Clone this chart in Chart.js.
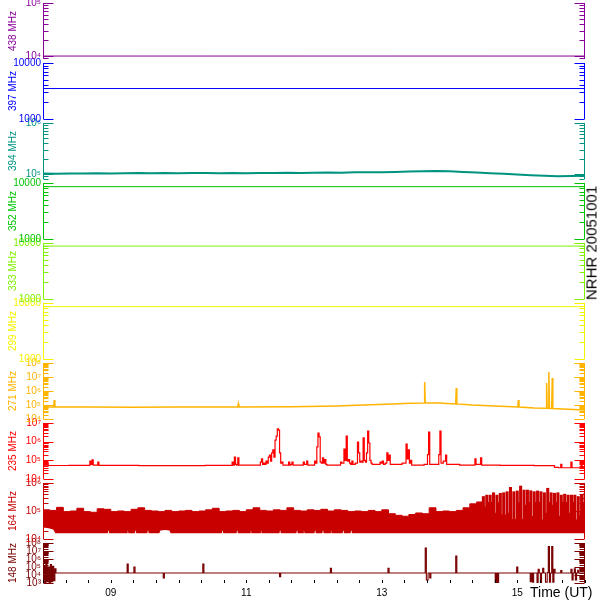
<!DOCTYPE html>
<html>
<head>
<meta charset="utf-8">
<script src="https://cdn.jsdelivr.net/npm/chart.js@4.4.1/dist/chart.umd.min.js"></script>
<style>
  body { margin: 0; background: #fff; }
  #wrap { position: relative; width: 600px; height: 600px; overflow: hidden; font-family: "Liberation Sans", Arial, sans-serif; }
  .panel { position: absolute; left: 0; width: 600px; }
  .panel canvas { display: block; }
  #stamp { position: absolute; left: 591px; top: 243px; transform: translate(-50%, -50%) rotate(-90deg); font-size: 15px; line-height: 15px; white-space: nowrap; color: #000; z-index: 5; }
  #xtitle { position: absolute; left: 530px; top: 585px; font-size: 14px; line-height: 14px; white-space: nowrap; color: #000; z-index: 5; }
</style>
</head>
<body>
<div id="wrap">
  <div id="stamp">NRHR 20051001</div>
  <div id="xtitle">Time (UT)</div>
</div>
<script>
// time in minutes of the day (UT)
const timeMin = 480, timeMax = 960;
const hourTicks = [540, 660, 780, 900];
const hourLabels = ["09", "11", "13", "15"];

const freqLabels = ["438 MHz", "397 MHz", "394 MHz", "352 MHz", "333 MHz",
                    "299 MHz", "271 MHz", "235 MHz", "164 MHz", "148 MHz"];

// flat channels
const t438 = [480, 960], v438 = [1.0e4, 1.0e4];
const t397 = [480, 960], v397 = [3.5e3, 3.5e3];
const t352 = [480, 960], v352 = [8.6e3, 8.6e3];
const t333 = [480, 960], v333 = [8.8e3, 8.8e3];
const t299 = [480, 960], v299 = [8.6e3, 8.6e3];

// 394 MHz
const t394 = [480, 492, 504, 516, 528, 540, 552, 564, 576, 588,
              600, 612, 624, 636, 648, 660, 672, 684, 696, 708,
              720, 732, 744, 756, 768, 780, 792, 804, 816, 828,
              840, 852, 864, 876, 888, 900, 912, 924, 936, 948, 960];
const v394 = [1.02e5, 1.01e5, 1.03e5, 1.02e5, 1.04e5, 1.03e5, 1.04e5, 1.05e5, 1.04e5, 1.05e5,
              1.04e5, 1.05e5, 1.05e5, 1.04e5, 1.05e5, 1.04e5, 1.05e5, 1.05e5, 1.06e5, 1.05e5,
              1.06e5, 1.07e5, 1.06e5, 1.08e5, 1.08e5, 1.09e5, 1.1e5, 1.12e5, 1.14e5, 1.15e5,
              1.13e5, 1.1e5, 1.07e5, 1.04e5, 1.01e5, 9.8e4, 9.5e4, 9.3e4, 9.1e4, 9.2e4, 9.3e4];

// 271 MHz
const t271 = [480, 482, 489.5, 490, 490.5, 520, 560, 600, 640, 652.5,
              653, 653.5, 700, 740, 770, 790, 805, 817.5, 818, 818.5,
              830, 845.5, 846, 846.5, 860, 880, 900.5, 901, 901.5, 915,
              925.5, 926, 926.5, 927.5, 928, 928.5, 930.5, 931, 931.5, 945, 960];
const v271 = [7e4, 7.1e4, 7.2e4, 2.3e5, 7.2e4, 7.1e4, 7e4, 7.1e4, 7.2e4, 7.2e4,
              1.2e5, 7.2e4, 7.5e4, 8.5e4, 1.05e5, 1.2e5, 1.35e5, 1.4e5, 4.4e6, 1.4e5,
              1.38e5, 1.2e5, 1.6e6, 1.2e5, 1.0e5, 8.5e4, 7.2e4, 2.3e5, 7.2e4, 6.2e4,
              5.8e4, 3.7e6, 5.8e4, 5.8e4, 2.3e7, 5.7e4, 5.7e4, 8.5e6, 5.6e4, 5e4, 4.4e4];

// 235 MHz
const t235 = [480, 481, 482, 483, 484, 485, 521, 522, 523, 524,
              525, 528, 529, 530, 600, 647, 648, 649, 650, 651,
              652, 653, 654, 672, 673, 674, 675, 676, 677, 678,
              679, 680, 681, 682, 683, 684, 685, 686, 687, 688,
              689, 690, 691, 692, 693, 697, 698, 699, 700, 701,
              702, 710, 711, 712, 713, 714, 715, 720, 721, 722,
              723, 724, 725, 726, 727, 728, 729, 730, 731, 732,
              743, 744, 745, 746, 747, 748, 749, 750, 751, 752,
              753, 754, 755, 758, 759, 760, 761, 762, 763, 764,
              765, 766, 767, 768, 769, 770, 771, 772, 778, 779,
              780, 781, 782, 784, 785, 786, 787, 788, 795, 801,
              802, 803, 804, 805, 806, 807, 815, 820, 821, 822,
              823, 830, 831, 832, 833, 836, 837, 838, 860, 862,
              863, 864, 867, 868, 869, 900, 930, 936, 937, 938,
              939, 940, 947, 948, 949, 956, 957, 958, 960];
const v235 = [5.3e4, 5.4e4, 8.1e4, 5.6e4, 7e4, 5.3e4, 5.4e4, 9e4, 6e4, 1.05e5,
              5.6e4, 5.5e4, 8.1e4, 5.4e4, 5.2e4, 5.4e4, 8.1e4, 5.6e4, 1.5e5, 6e4,
              5.6e4, 1.35e5, 5.6e4, 5.6e4, 8.1e4, 1.2e5, 6e4, 7e4, 6e4, 9e4,
              7e4, 1.5e5, 1.9e5, 9e4, 2.5e5, 3.6e5, 1.5e5, 1.2e6, 2e6, 4.8e6,
              4.2e6, 2.5e5, 7e4, 8.1e4, 5.6e4, 5.6e4, 8.1e4, 5.6e4, 6e4, 8.1e4,
              5.5e4, 5.5e4, 8.1e4, 6e4, 6e4, 9e4, 5.6e4, 5.6e4, 9.2e4, 7e4,
              5.2e5, 2.9e6, 1.8e6, 8e4, 7e4, 1.35e5, 7e4, 1.1e5, 6e4, 5.6e4,
              5.6e4, 8.1e4, 7e4, 7e4, 4e5, 1e5, 2e6, 9e4, 1.1e5, 7e4,
              6e4, 9e4, 6e4, 7e4, 9.6e5, 2.5e5, 8e4, 9e4, 8e4, 1.6e6,
              1e5, 8e4, 2.5e5, 3.7e6, 8.5e5, 1e5, 7e4, 6e4, 6e4, 8.1e4,
              7e4, 9e4, 6e4, 7e4, 2.5e5, 1e5, 1.9e5, 6e4, 6e4, 7e4,
              7.5e5, 1.2e5, 3.6e5, 7e4, 1e5, 5.6e4, 5.5e4, 6e4, 2e5, 3.3e6,
              6e4, 6e4, 2e5, 3.7e6, 7e4, 9e4, 1.9e5, 6e4, 5.6e4, 5.6e4,
              1.2e5, 6e4, 6e4, 1.35e5, 5.6e4, 5.4e4, 5.2e4, 4.2e4, 4e4, 4e4,
              6e4, 4e4, 4e4, 8e4, 4e4, 4e4, 7e4, 4e4, 4.5e4];

// 164 MHz: upper edge of the band
const t164 = [480, 486, 492, 498, 504, 510, 516, 522, 528, 534,
              540, 546, 552, 558, 564, 570, 576, 582, 588, 594,
              600, 606, 612, 618, 624, 630, 636, 642, 648, 654,
              660, 666, 672, 678, 684, 690, 696, 702, 708, 714,
              720, 726, 732, 738, 744, 750, 756, 762, 768, 774,
              780, 786, 792, 798, 804, 810, 816, 822, 828, 834,
              840, 846, 852, 858, 864,
              870, 873, 876, 879, 882, 885, 888, 891, 894, 897,
              900, 903, 906, 909, 912, 915, 918, 921, 924, 927,
              930, 933, 936, 939, 942, 945, 948, 951, 954, 957, 960];
const v164 = [1.1e5, 1.05e5, 1.35e5, 9.5e4, 1e5, 1.25e5, 9.5e4, 9e4, 1.2e5, 1.15e5,
              9.5e4, 1e5, 9.5e4, 1.15e5, 1.3e5, 1.05e5, 1e5, 9.5e4, 1.05e5, 9.5e4,
              1e5, 1.05e5, 9.5e4, 1e5, 1.1e5, 1.25e5, 9.5e4, 1e5, 1.05e5, 9.5e4,
              1.1e5, 1.3e5, 1.05e5, 1e5, 1.1e5, 1.05e5, 1.3e5, 1.05e5, 1e5, 1.1e5,
              1.05e5, 1.15e5, 1e5, 1.1e5, 1.05e5, 9.5e4, 1e5, 9.5e4, 1.05e5, 9.5e4,
              1.1e5, 8e4, 7e4, 6.5e4, 7.5e4, 8.5e4, 8e4, 1.3e5, 9.5e4, 1e5,
              9.5e4, 1.05e5, 1.3e5, 1.8e5, 2.1e5,
              1.4e5, 2e5, 2e5, 8.3e4, 2e5, 7.2e4, 7.2e4, 8.3e4, 5e4, 5e4,
              2e5, 5e4, 1.6e5, 2e5, 6.3e4, 2e5, 2e5, 4.8e4, 8.3e4, 2e5,
              1.6e5, 2e5, 6.5e4, 2e5, 2e5, 8.3e4, 2e5, 4.8e4, 6.3e4, 2e5, 2e5];
// 164 MHz: lower edge of the band
const t164lo = [480, 485, 489, 491,
                537.4, 538, 538.6, 554.4, 555, 555.6, 561.4, 562, 562.6, 572.4, 573, 573.6,
                583, 584, 588, 592, 593,
                638.4, 639, 639.6, 651.4, 652, 652.6, 663.4, 664, 664.6, 672.4, 673, 673.6,
                689.4, 690, 690.6, 704.4, 705, 705.6, 710.4, 711, 711.6, 720.4, 721, 721.6,
                727.4, 728, 728.6, 734.4, 735, 735.6, 745.4, 746, 746.6, 752.4, 753, 753.6,
                760, 960];
const v164lo = [2.6e4, 2.4e4, 2.2e4, 1.6e4,
                1.6e4, 2.1e4, 1.6e4, 1.6e4, 2.1e4, 1.6e4, 1.6e4, 2.1e4, 1.6e4, 1.6e4, 2.1e4, 1.6e4,
                1.6e4, 2e4, 2.1e4, 2e4, 1.6e4,
                1.6e4, 2.1e4, 1.6e4, 1.6e4, 2.1e4, 1.6e4, 1.6e4, 2.1e4, 1.6e4, 1.6e4, 2.1e4, 1.6e4,
                1.6e4, 2.1e4, 1.6e4, 1.6e4, 2.1e4, 1.6e4, 1.6e4, 2.1e4, 1.6e4, 1.6e4, 2.1e4, 1.6e4,
                1.6e4, 2.1e4, 1.6e4, 1.6e4, 2.1e4, 1.6e4, 1.6e4, 2.1e4, 1.6e4, 1.6e4, 2.1e4, 1.6e4,
                1.6e4, 1.6e4];
// 164 MHz: bursts after 14:30
const tBurst164 = [870, 873, 876, 879, 882, 885, 888, 891, 894, 897,
                   900, 903, 906, 909, 912, 915, 918, 921, 924, 927,
                   930, 933, 936, 939, 942, 945, 948, 951, 954, 957, 960];
const vBurst164 = [3.3e5, 3.7e5, 3.7e5, 4.5e5, 3.7e5, 4.3e5, 4.5e5, 4.9e5, 7e5, 4.9e5,
                   5.2e5, 7.8e5, 5.6e5, 5.6e5, 5.3e5, 4.9e5, 5.2e5, 4.9e5, 4.5e5, 6.5e5,
                   4.5e5, 4.3e5, 4.5e5, 3.7e5, 4e5, 3.7e5, 3.7e5, 3.7e5, 3.3e5, 3.7e5, 4.3e5];

// 148 MHz
const t148 = [480, 481, 482, 483, 484, 485, 486, 487, 488, 489,
              490, 491, 492, 554, 555, 556, 560, 561, 562, 586,
              587, 588, 621, 622, 623, 689, 690, 691, 734, 735,
              736, 785, 786, 787, 818, 819, 820, 822, 823, 824,
              845, 846, 847, 880, 881, 882, 883, 884, 899, 900,
              901, 911, 912, 913, 914, 915, 917, 918, 919, 920,
              921, 922, 923, 924, 926, 927, 928, 929, 930, 931,
              932, 933, 934, 938, 939, 940, 947, 948, 949, 950,
              951, 952, 953, 954, 955, 960];
const v148 = [1.8e4, 1.2e5, 1.2e3, 2.5e5, 1.5e3, 1e5, 1e3, 2e5, 1.5e3, 1.2e5,
              2e3, 6e4, 1.8e4, 1.8e4, 2.4e5, 1.8e4, 1.8e4, 1e5, 1.8e4, 1.8e4,
              4.2e3, 1.8e4, 1.8e4, 2.4e5, 1.8e4, 1.8e4, 6e3, 1.8e4, 1.8e4, 7e4,
              1.8e4, 1.8e4, 7e4, 1.8e4, 1.8e4, 2.4e7, 2.4e3, 1.8e4, 4.2e3, 1.8e4,
              1.8e4, 2.4e6, 1.8e4, 1.8e4, 1.2e3, 1.8e4, 1.2e3, 1.8e4, 1.8e4, 1e5,
              1.8e4, 1.8e4, 1.5e3, 1.8e4, 1.3e3, 1.8e4, 1.8e4, 1e3, 5e4, 1.8e4,
              1.2e3, 1.8e4, 7e4, 1.8e4, 1.3e3, 2e4, 3.5e7, 1.3e3, 1.8e4, 3.5e7,
              1.3e3, 5e4, 1.8e4, 1.8e4, 3.5e4, 1.8e4, 1.8e4, 5e4, 2.4e3, 1.8e4,
              6e4, 2.4e3, 1.8e4, 4e4, 1.8e4, 1.8e4];

const FONT = '"Liberation Sans", Arial, sans-serif';
const SUP = "⁰¹²³⁴⁵⁶⁷⁸⁹";

function pts(ts, vs) {
  return ts.map((t, i) => ({ x: t, y: vs[i] }));
}

function lineSet(ts, vs, color, w, stepped) {
  return { data: pts(ts, vs), borderColor: color, backgroundColor: color,
           borderWidth: w, pointRadius: 0, tension: 0, fill: false, stepped: stepped || false };
}

function logTicks(min, max) {
  const out = [];
  for (let d = Math.floor(Math.log10(min)); d <= Math.ceil(Math.log10(max)); d++) {
    for (let k = 1; k < 10; k++) {
      const v = k * Math.pow(10, d);
      if (v >= min * 0.999999 && v <= max * 1.000001) out.push({ value: v, major: k === 1 });
    }
  }
  return out;
}

function tickText(v, fmt) {
  const l = Math.log10(v), e = Math.round(l);
  if (Math.abs(l - e) > 1e-6) return "";
  if (fmt === "plain") return String(Math.round(v));
  return "10" + String(e).split("").map(c => SUP[c]).join("");
}

const panels = [
  { color: "#880098", top: 3, height: 56, min: 8.8e3, max: 1e5, fmt: "exp",
    sets: c => [lineSet(t438, v438, c, 1)] },
  { color: "#0000ff", top: 63, height: 56, min: 1e3, max: 1e4, fmt: "plain",
    sets: c => [lineSet(t397, v397, c, 1)] },
  { color: "#009480", top: 123, height: 56, min: 8e4, max: 1e6, fmt: "exp",
    sets: c => [lineSet(t394, v394, c, 2)] },
  { color: "#00c400", top: 183, height: 56, min: 1e3, max: 1e4, fmt: "plain",
    sets: c => [lineSet(t352, v352, c, 1)] },
  { color: "#80f000", top: 243, height: 56, min: 1e3, max: 1e4, fmt: "plain",
    sets: c => [lineSet(t333, v333, c, 1)] },
  { color: "#f4f400", top: 303, height: 56, min: 1e3, max: 1e4, fmt: "plain",
    sets: c => [lineSet(t299, v299, c, 1)] },
  { color: "#ffb400", top: 363, height: 56, min: 1e4, max: 1e8, fmt: "exp",
    sets: c => [lineSet(t271, v271, c, 1.5)] },
  { color: "#ff0000", top: 423, height: 56, min: 1e4, max: 1e7, fmt: "exp",
    sets: c => [lineSet(t235, v235, c, 1.2, "middle")] },
  { color: "#c80000", top: 483, height: 56, min: 1e4, max: 1e6, fmt: "exp",
    sets: c => [
      Object.assign(lineSet(t164lo, v164lo, "rgba(0,0,0,0)", 1),
                    { fill: "start", backgroundColor: "#ffffff", order: 0 }),
      { type: "bar", data: tBurst164.map((t, k) => ({ x: t, y: [2e4, vBurst164[k]] })),
        backgroundColor: c, borderWidth: 0, barThickness: 2.4, order: 1 },
      Object.assign(lineSet(t164, v164, c, 1, true), { fill: "start", order: 2 })
    ] },
  { color: "#780000", top: 543, height: 40, min: 1e3, max: 1e8, fmt: "exp",
    sets: c => [lineSet(t148, v148, c, 1.1, "middle")] }
];

const xTickValues = [];
for (let m = timeMin; m <= timeMax; m += 20) xTickValues.push(m);

function framePlugin(color, last) {
  return {
    id: "frame",
    afterDraw(chart) {
      const { ctx, chartArea: a, scales } = chart;
      const L = Math.round(a.left) + 0.5, R = Math.round(a.right) - 0.5;
      ctx.save();
      ctx.lineWidth = 1;
      ctx.strokeStyle = color;
      ctx.beginPath();
      ctx.moveTo(L, a.top); ctx.lineTo(L, a.bottom);
      ctx.moveTo(R, a.top); ctx.lineTo(R, a.bottom);
      scales.y.ticks.forEach(t => {
        const y = Math.round(scales.y.getPixelForValue(t.value)) + 0.5;
        const len = t.major ? 10 : 5;
        ctx.moveTo(L, y); ctx.lineTo(L + len, y);
        ctx.moveTo(R, y); ctx.lineTo(R - len, y);
      });
      ctx.stroke();
      if (last) {
        ctx.strokeStyle = "#000";
        ctx.beginPath();
        scales.x.ticks.forEach(t => {
          const x = Math.round(scales.x.getPixelForValue(t.value)) + 0.5;
          ctx.moveTo(x, a.bottom); ctx.lineTo(x, a.bottom - 3);
        });
        ctx.stroke();
      }
      ctx.restore();
    }
  };
}

const wrap = document.getElementById("wrap");

panels.forEach((p, i) => {
  const last = i === panels.length - 1;
  const h = last ? 600 - (p.top - 8) : p.height + 16;
  const box = document.createElement("div");
  box.className = "panel";
  box.style.top = (p.top - 8) + "px";
  box.style.height = h + "px";
  const cv = document.createElement("canvas");
  cv.width = 600;
  cv.height = h;
  box.appendChild(cv);
  wrap.insertBefore(box, wrap.firstChild);

  new Chart(cv, {
    type: "line",
    data: { datasets: p.sets(p.color) },
    options: {
      responsive: false,
      animation: false,
      events: [],
      layout: { padding: { left: 4, right: 15, top: 8, bottom: last ? 0 : 8 } },
      plugins: { legend: { display: false }, tooltip: { enabled: false } },
      scales: {
        x: {
          type: "linear", min: timeMin, max: timeMax, display: last, offset: false,
          grid: { display: false, drawTicks: false, offset: false },
          border: { display: false },
          afterBuildTicks: s => { s.ticks = xTickValues.map(v => ({ value: v })); },
          afterFit: s => { s.height = last ? 17 : 0; },
          ticks: {
            autoSkip: false, maxRotation: 0, padding: 4, color: "#000",
            font: { family: FONT, size: 10 },
            callback: v => {
              const k = hourTicks.indexOf(v);
              return k < 0 ? "" : hourLabels[k];
            }
          }
        },
        y: {
          type: "logarithmic", min: p.min, max: p.max, position: "left", beginAtZero: false,
          grid: { display: false, drawTicks: false },
          border: { display: false },
          afterBuildTicks: s => { s.ticks = logTicks(p.min, p.max); },
          afterFit: s => { s.width = 39; },
          title: {
            display: true, text: freqLabels[i], color: p.color,
            font: { family: FONT, size: 10 }, padding: { top: 3, bottom: 0 }
          },
          ticks: {
            autoSkip: false, padding: 2, color: p.color,
            font: { family: FONT, size: 10 },
            callback: v => tickText(v, p.fmt)
          }
        }
      }
    },
    plugins: [framePlugin(p.color, last)]
  });
});
</script>
</body>
</html>
